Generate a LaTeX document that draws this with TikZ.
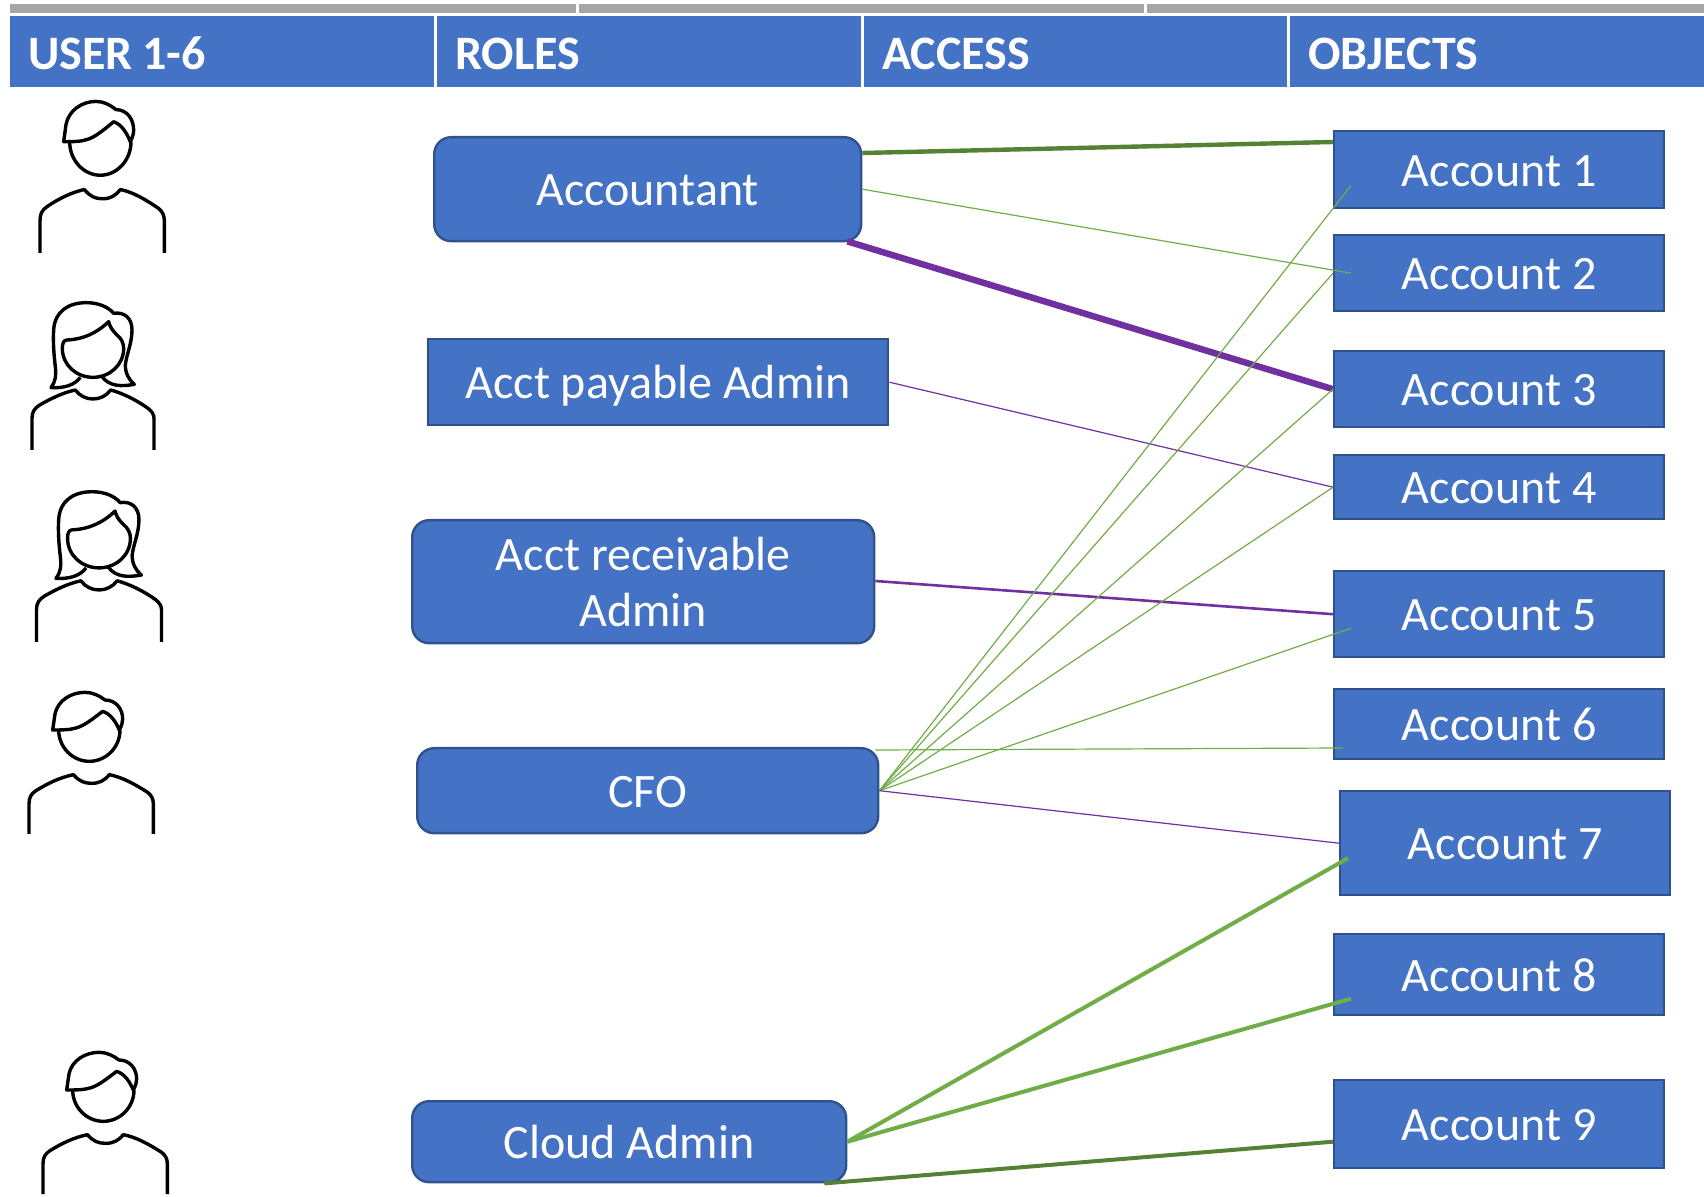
\documentclass[tikz,border=0pt]{standalone}
\usepackage{fontspec}
\setmainfont{Carlito}
\usetikzlibrary{positioning,calc}
\definecolor{headblue}{HTML}{4472C4}
\definecolor{edgeblue}{HTML}{2F528F}
\definecolor{bargray}{HTML}{A5A5A5}
\definecolor{linkgreen}{HTML}{70AD47}
\definecolor{darkgreen}{HTML}{548235}
\definecolor{linkpurple}{HTML}{7030A0}
\tikzset{
  headbox/.style={fill=headblue, text=white, font=\fontsize{24}{28}\selectfont\bfseries, anchor=north west, minimum height=35.5pt, inner xsep=9pt, inner ysep=0pt, align=left, text height=18.1pt, text depth=0pt},
  barbox/.style={fill=bargray, anchor=north west, minimum height=4.5pt, inner sep=0pt},
  rolebox/.style={draw=edgeblue, line width=1.2pt, fill=headblue, text=white, font=\fontsize{24}{28}\selectfont, anchor=north west, rounded corners=8.5pt, inner sep=0pt, align=center},
  linebox/.style={rolebox, text height=17pt, text depth=0.5pt},
  squarebox/.style={linebox, rounded corners=0pt},
  acctbox/.style={squarebox, minimum width=165pt},
  thingreen/.style={draw=linkgreen, line width=0.6pt},
  thinpurple/.style={draw=linkpurple, line width=0.6pt},
  iconline/.style={draw=black, line width=1.7pt, line join=round},
  pics/manicon/.style={code={
    \draw[iconline, scale=1/3] (-186,0) -- (-186,-90) .. controls (-186,-110) and (-180,-120) .. (-165,-130) .. controls (-125,-155) and (-90,-170) .. (-53,-178) .. controls (-35,-158) and (-20,-152) .. (2,-152) .. controls (25,-152) and (40,-160) .. (55,-178) .. controls (95,-170) and (130,-150) .. (170,-125) .. controls (182,-115) and (187,-105) .. (187,-90) -- (187,0);
    \draw[iconline, scale=1/3] (-97,-312) .. controls (-97,-260) and (-55,-218) .. (-5,-218) .. controls (45,-218) and (87,-260) .. (87,-312);
    \draw[iconline, scale=1/3] (-115,-312) -- (-108,-360) .. controls (-100,-400) and (-60,-425) .. (-18,-425) .. controls (5,-425) and (25,-415) .. (42,-402) .. controls (75,-402) and (95,-375) .. (95,-345) .. controls (95,-335) and (92,-325) .. (85,-312) .. controls (75,-335) and (60,-360) .. (35,-368) .. controls (5,-345) and (-20,-325) .. (-45,-318) .. controls (-65,-312) and (-90,-312) .. (-115,-312) -- cycle;
  }},
  pics/womanicon/.style={code={
    \draw[iconline, scale=1/3] (-183,0) -- (-183,-95) .. controls (-183,-115) and (-175,-125) .. (-160,-135) .. controls (-125,-155) and (-90,-172) .. (-53,-180) .. controls (-40,-162) and (-20,-153) .. (0,-153) .. controls (20,-153) and (40,-162) .. (53,-180) .. controls (90,-170) and (130,-150) .. (165,-125) .. controls (178,-115) and (183,-105) .. (183,-95) -- (183,0);
    \draw[iconline, scale=1/3] (-78,-330) .. controls (-30,-332) and (10,-350) .. (47,-385) .. controls (52,-365) and (60,-358) .. (72,-345) .. controls (85,-335) and (92,-320) .. (92,-305) .. controls (92,-255) and (50,-218) .. (0,-218) .. controls (-50,-218) and (-92,-255) .. (-92,-305) .. controls (-92,-320) and (-88,-330) .. (-78,-330) -- cycle;
    \draw[iconline, scale=1/3] (-38,-218) .. controls (-55,-195) and (-85,-185) .. (-126,-187) .. controls (-112,-205) and (-110,-225) .. (-113,-250) .. controls (-118,-290) and (-120,-330) .. (-118,-360) .. controls (-115,-415) and (-75,-442) .. (-20,-442) .. controls (15,-442) and (45,-430) .. (62,-410) .. controls (95,-415) and (117,-395) .. (117,-360) .. controls (117,-320) and (100,-285) .. (97,-255) .. controls (97,-230) and (108,-210) .. (124,-197) .. controls (85,-190) and (50,-190) .. (27,-220);
  }}
}
\begin{document}
\begin{tikzpicture}[x=0.5pt, y=-0.5pt]
  \useasboundingbox (0,0) rectangle (1704,1197);

  % Gray strip and column titles
  \node (bar1) [barbox, minimum width=283pt] at (10,4) {};
  \node (bar2) [barbox, minimum width=282.5pt] at (579,4) {};
  \node (bar3) [barbox, minimum width=278.5pt] at (1147,4) {};
  \node (head_user) [headbox, minimum width=212pt, text width=194pt] at (10,16) {USER\hspace{0.2em}1-6};
  \node (head_roles) [headbox, minimum width=212pt, text width=194pt] at (437,16) {ROLES};
  \node (head_access) [headbox, minimum width=211.5pt, text width=193.5pt] at (864,16) {ACCESS};
  \node (head_objects) [headbox, minimum width=207pt, text width=189pt] at (1290,16) {OBJECTS};

  % People on the left
  \pic[yscale=1.07] (user1) at (102,253) {manicon};
  \pic (user2) at (93,450) {womanicon};
  \pic[xscale=1.025, yscale=1.02] (user3) at (99,642) {womanicon};
  \pic (user4) at (91,834) {manicon};
  \pic (user5) at (105,1194) {manicon};

  % Role boxes
  \node (accountant) [linebox, minimum width=213.5pt, minimum height=52pt] at (433,136) {Accountant};
  \node (payable) [squarebox, minimum width=230pt, minimum height=43pt] at (427,338) {Acct payable Admin};
  \node (receivable) [rolebox, minimum width=231pt, minimum height=61.5pt] at (411,519) {Acct receivable\\Admin};
  \node (cfo) [linebox, minimum width=230.5pt, minimum height=42.5pt] at (416,747) {CFO};
  \node (cloud) [linebox, minimum width=217pt, minimum height=40.5pt] at (411,1100) {Cloud Admin};

  % Account boxes
  \node (acct1) [acctbox, minimum height=38.5pt] at (1333,130) {Account 1};
  \node (acct2) [acctbox, minimum height=38pt] at (1333,234) {Account 2};
  \node (acct3) [acctbox, minimum height=38pt] at (1333,350) {Account 3};
  \node (acct4) [acctbox, minimum height=32pt] at (1333,454) {Account 4};
  \node (acct5) [acctbox, minimum height=43pt] at (1333,570) {Account 5};
  \node (acct6) [acctbox, minimum height=35pt] at (1333,688) {Account 6};
  \node (acct7) [acctbox, minimum height=52pt] at (1339,790) {Account 7};
  \node (acct8) [acctbox, minimum height=40.5pt] at (1333,933) {Account 8};
  \node (acct9) [acctbox, minimum height=44pt] at (1333,1079) {Account 9};

  % Links from Accountant and the two Acct boxes
  \draw[darkgreen, line width=2.2pt] ($(accountant.north east)+(0,17)$) -- ($(acct1.north west)+(0,12)$);
  \draw[thingreen] (accountant.east) -- ($(acct2.west)+(18,0)$);
  \draw[linkpurple, line width=3.2pt] ($(accountant.south east)+(-15,-1)$) -- (acct3.west);
  \draw[thinpurple] (payable.east) -- (acct4.west);
  \draw[linkpurple, line width=1.3pt] ($(receivable.north east)+(0,62)$) -- (acct5.west);

  % Links from CFO
  \draw[thingreen] (cfo.east) -- ($(acct1.south west)+(18,-24)$);
  \draw[thingreen] (cfo.east) -- (acct2.west);
  \draw[thingreen] (cfo.east) -- (acct3.west);
  \draw[thingreen] (cfo.east) -- (acct4.west);
  \draw[thingreen] (cfo.east) -- ($(acct5.west)+(18,14)$);
  \draw[thingreen] ($(cfo.north east)+(-4,3)$) -- ($(acct6.north west)+(10,60)$);
  \draw[thinpurple] (cfo.east) -- (acct7.west);

  % Links from Cloud Admin
  \draw[linkgreen, line width=2pt] (cloud.east) -- ($(acct7.west)+(9,15)$);
  \draw[linkgreen, line width=2pt] (cloud.east) -- ($(acct8.west)+(18,24)$);
  \draw[darkgreen, line width=2pt] ($(cloud.south east)+(-23,0)$) -- ($(acct9.west)+(0,17.5)$);
\end{tikzpicture}
\end{document}
